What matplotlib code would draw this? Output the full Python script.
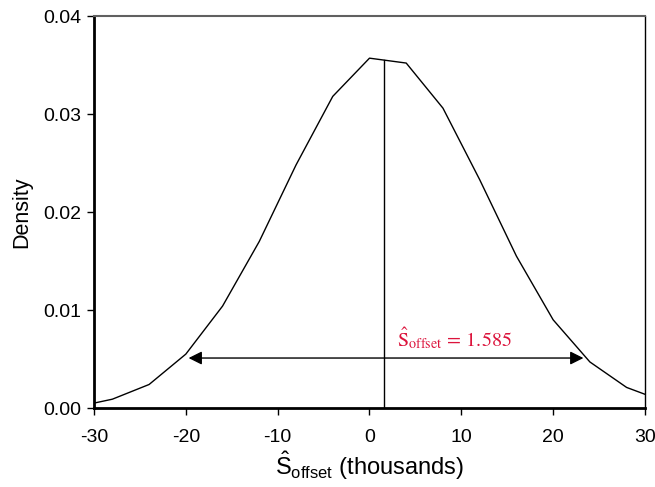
import matplotlib
matplotlib.use('Agg')
import matplotlib.pyplot as plt

plt.rcParams['font.family'] = ['Liberation Sans', 'DejaVu Sans']
plt.rcParams['mathtext.fontset'] = 'custom'
plt.rcParams['mathtext.rm'] = 'Liberation Sans'
plt.rcParams['mathtext.it'] = 'Liberation Sans:italic'
plt.rcParams['axes.unicode_minus'] = False

# density curve
x_vals = [-30, -28, -24, -20, -16, -12, -8, -4, 0, 4, 8, 12, 16, 20, 24, 28, 30]
density = [0.0005, 0.0009, 0.0024, 0.0055, 0.0104, 0.0170, 0.0248, 0.0318,
           0.0357, 0.0352, 0.0306, 0.0233, 0.0155, 0.0090, 0.0047, 0.0021, 0.0014]

s_offset = 1.585
line_top = 0.0355
arrow_y = 0.0051
arrow_left, arrow_right = -19.7, 23.3

fig = plt.figure(figsize=(6.55, 4.87), dpi=100)
ax = fig.add_axes([0.1435, 0.1622, 0.8412, 0.8049])

ax.plot(x_vals, density, color='black', lw=1.0)
ax.plot([s_offset, s_offset], [0, line_top], color='black', lw=1.0)
ax.annotate('', xy=(arrow_left, arrow_y), xytext=(arrow_right, arrow_y),
            arrowprops=dict(arrowstyle='<|-|>', color='black', lw=1.0,
                            mutation_scale=20, shrinkA=0, shrinkB=0))
ax.text(3.0, 0.0071, r'$\hat{\mathrm{S}}_{\mathrm{offset}}\,=\,1.585$',
        color='#dc143c', fontsize=14.5, math_fontfamily='stix', va='center')

ax.set_xlim(-30, 30)
ax.set_ylim(0, 0.04)
ax.set_xticks([-30, -20, -10, 0, 10, 20, 30])
ax.set_yticks([0, 0.01, 0.02, 0.03, 0.04])
ax.set_yticklabels(['0.00', '0.01', '0.02', '0.03', '0.04'])
ax.tick_params(direction='out', length=5, width=1, labelsize=14)
ax.tick_params(axis='x', pad=10)
ax.tick_params(axis='y', pad=4)

ax.set_xlabel(r'$\hat{\mathrm{S}}_{\mathrm{offset}}$ (thousands)', fontsize=17, labelpad=3)
ax.set_ylabel('Density', fontsize=15.5, labelpad=8)

ax.spines['left'].set_linewidth(2)
ax.spines['bottom'].set_linewidth(2)
ax.spines['top'].set_color('#606060')
ax.spines['top'].set_linewidth(1.5)
ax.spines['right'].set_linewidth(1)

fig.savefig('out.png', dpi=100)
